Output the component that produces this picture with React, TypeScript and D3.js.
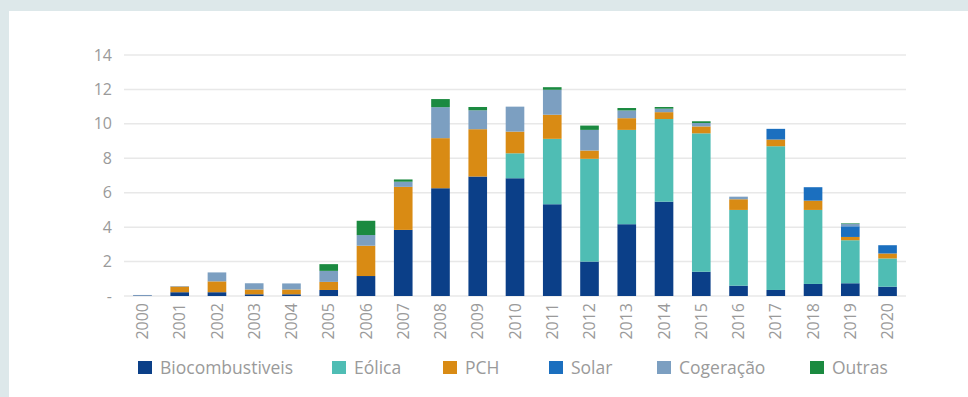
import React from "react";
import * as d3 from "d3";

const years = ["2000","2001","2002","2003","2004","2005","2006","2007","2008","2009","2010","2011","2012","2013","2014","2015","2016","2017","2018","2019","2020"];
const seriesNames = ["Biocombustiveis", "Eólica", "PCH", "Solar", "Cogeração", "Outras"];
const seriesColors = ["#0b3f88", "#4fbdb4", "#d98b14", "#1b6fbf", "#7c9fc1", "#1b8a40"];

const bio =    [0.03, 0.22, 0.22, 0.1, 0.1, 0.35, 1.16, 3.84, 6.26, 6.94, 6.84, 5.33, 2.0, 4.17, 5.48, 1.41, 0.6, 0.35, 0.7, 0.74, 0.54];
const eolica = [0, 0, 0, 0, 0, 0, 0, 0, 0, 0, 1.45, 3.8, 5.97, 5.48, 4.8, 8.04, 4.4, 8.35, 4.3, 2.5, 1.64];
const pch =    [0, 0.33, 0.63, 0.28, 0.28, 0.47, 1.76, 2.5, 2.91, 2.75, 1.26, 1.4, 0.48, 0.68, 0.4, 0.4, 0.62, 0.39, 0.54, 0.19, 0.29];
const solar =  [0, 0, 0, 0, 0, 0, 0, 0, 0, 0, 0, 0, 0, 0, 0, 0, 0, 0.62, 0.78, 0.62, 0.48];
const cog =    [0.03, 0.03, 0.52, 0.36, 0.35, 0.64, 0.62, 0.3, 1.8, 1.1, 1.45, 1.45, 1.2, 0.45, 0.2, 0.2, 0.15, 0, 0, 0.15, 0];
const outras = [0, 0, 0, 0, 0, 0.39, 0.83, 0.13, 0.47, 0.19, 0, 0.15, 0.25, 0.14, 0.1, 0.1, 0, 0, 0, 0.03, 0];
const yTicks = [0, 2, 4, 6, 8, 10, 12, 14];

export default function App() {
  const W = 968, H = 397;
  const font = "'Open Sans', sans-serif";
  const rows = years.map((y, i) => ({
    year: y,
    s0: bio[i], s1: eolica[i], s2: pch[i], s3: solar[i], s4: cog[i], s5: outras[i],
  }));
  const keys = ["s0", "s1", "s2", "s3", "s4", "s5"];
  const stacked = d3.stack<any>().keys(keys)(rows);

  const x = d3.scaleBand<string>().domain(years).range([124, 906]).paddingInner(0.5).paddingOuter(0.245);
  const y = d3.scaleLinear().domain([0, 14]).range([296, 55]);

  const legendX = [138, 332, 443, 549, 657, 810];

  return (
    <svg width={W} height={H} style={{ position: "absolute", left: 0, top: 0, display: "block" }} fontFamily={font}>
      <rect x={0} y={0} width={W} height={H} fill="#ffffff" />
      <rect x={0} y={0} width={W} height={11} fill="#dde8ea" />
      <rect x={0} y={0} width={9} height={H} fill="#dde8ea" />

      {yTicks.map((t) => (
        <g key={t}>
          <line x1={124} x2={906} y1={y(t)} y2={y(t)} stroke="#e8e8e8" strokeWidth={1.5} />
          <text x={112} y={y(t)} dy="0.35em" textAnchor="end" fontSize={16} fill="#9a9a9a">
            {t === 0 ? "-" : t}
          </text>
        </g>
      ))}

      {stacked.map((layer, li) => (
        <g key={li} fill={seriesColors[li]}>
          {layer.map((d: any, i: number) => {
            const h = y(d[0]) - y(d[1]);
            if (h <= 0) return null;
            return (
              <rect key={i} x={x(years[i])} y={y(d[1])} width={x.bandwidth()} height={h} />
            );
          })}
        </g>
      ))}

      {years.map((yr) => {
        const cx = (x(yr) as number) + x.bandwidth() / 2;
        return (
          <text key={yr} transform={`translate(${cx},303) rotate(-90)`} textAnchor="end" dy="0.35em" fontSize={16} fill="#9a9a9a">
            {yr}
          </text>
        );
      })}

      {seriesNames.map((n, i) => (
        <g key={n}>
          <rect x={legendX[i]} y={361} width={14} height={13} fill={seriesColors[i]} />
          <text x={legendX[i] + 22} y={368} dy="0.35em" fontSize={17.5} fill="#9a9a9a">{n}</text>
        </g>
      ))}
    </svg>
  );
}
